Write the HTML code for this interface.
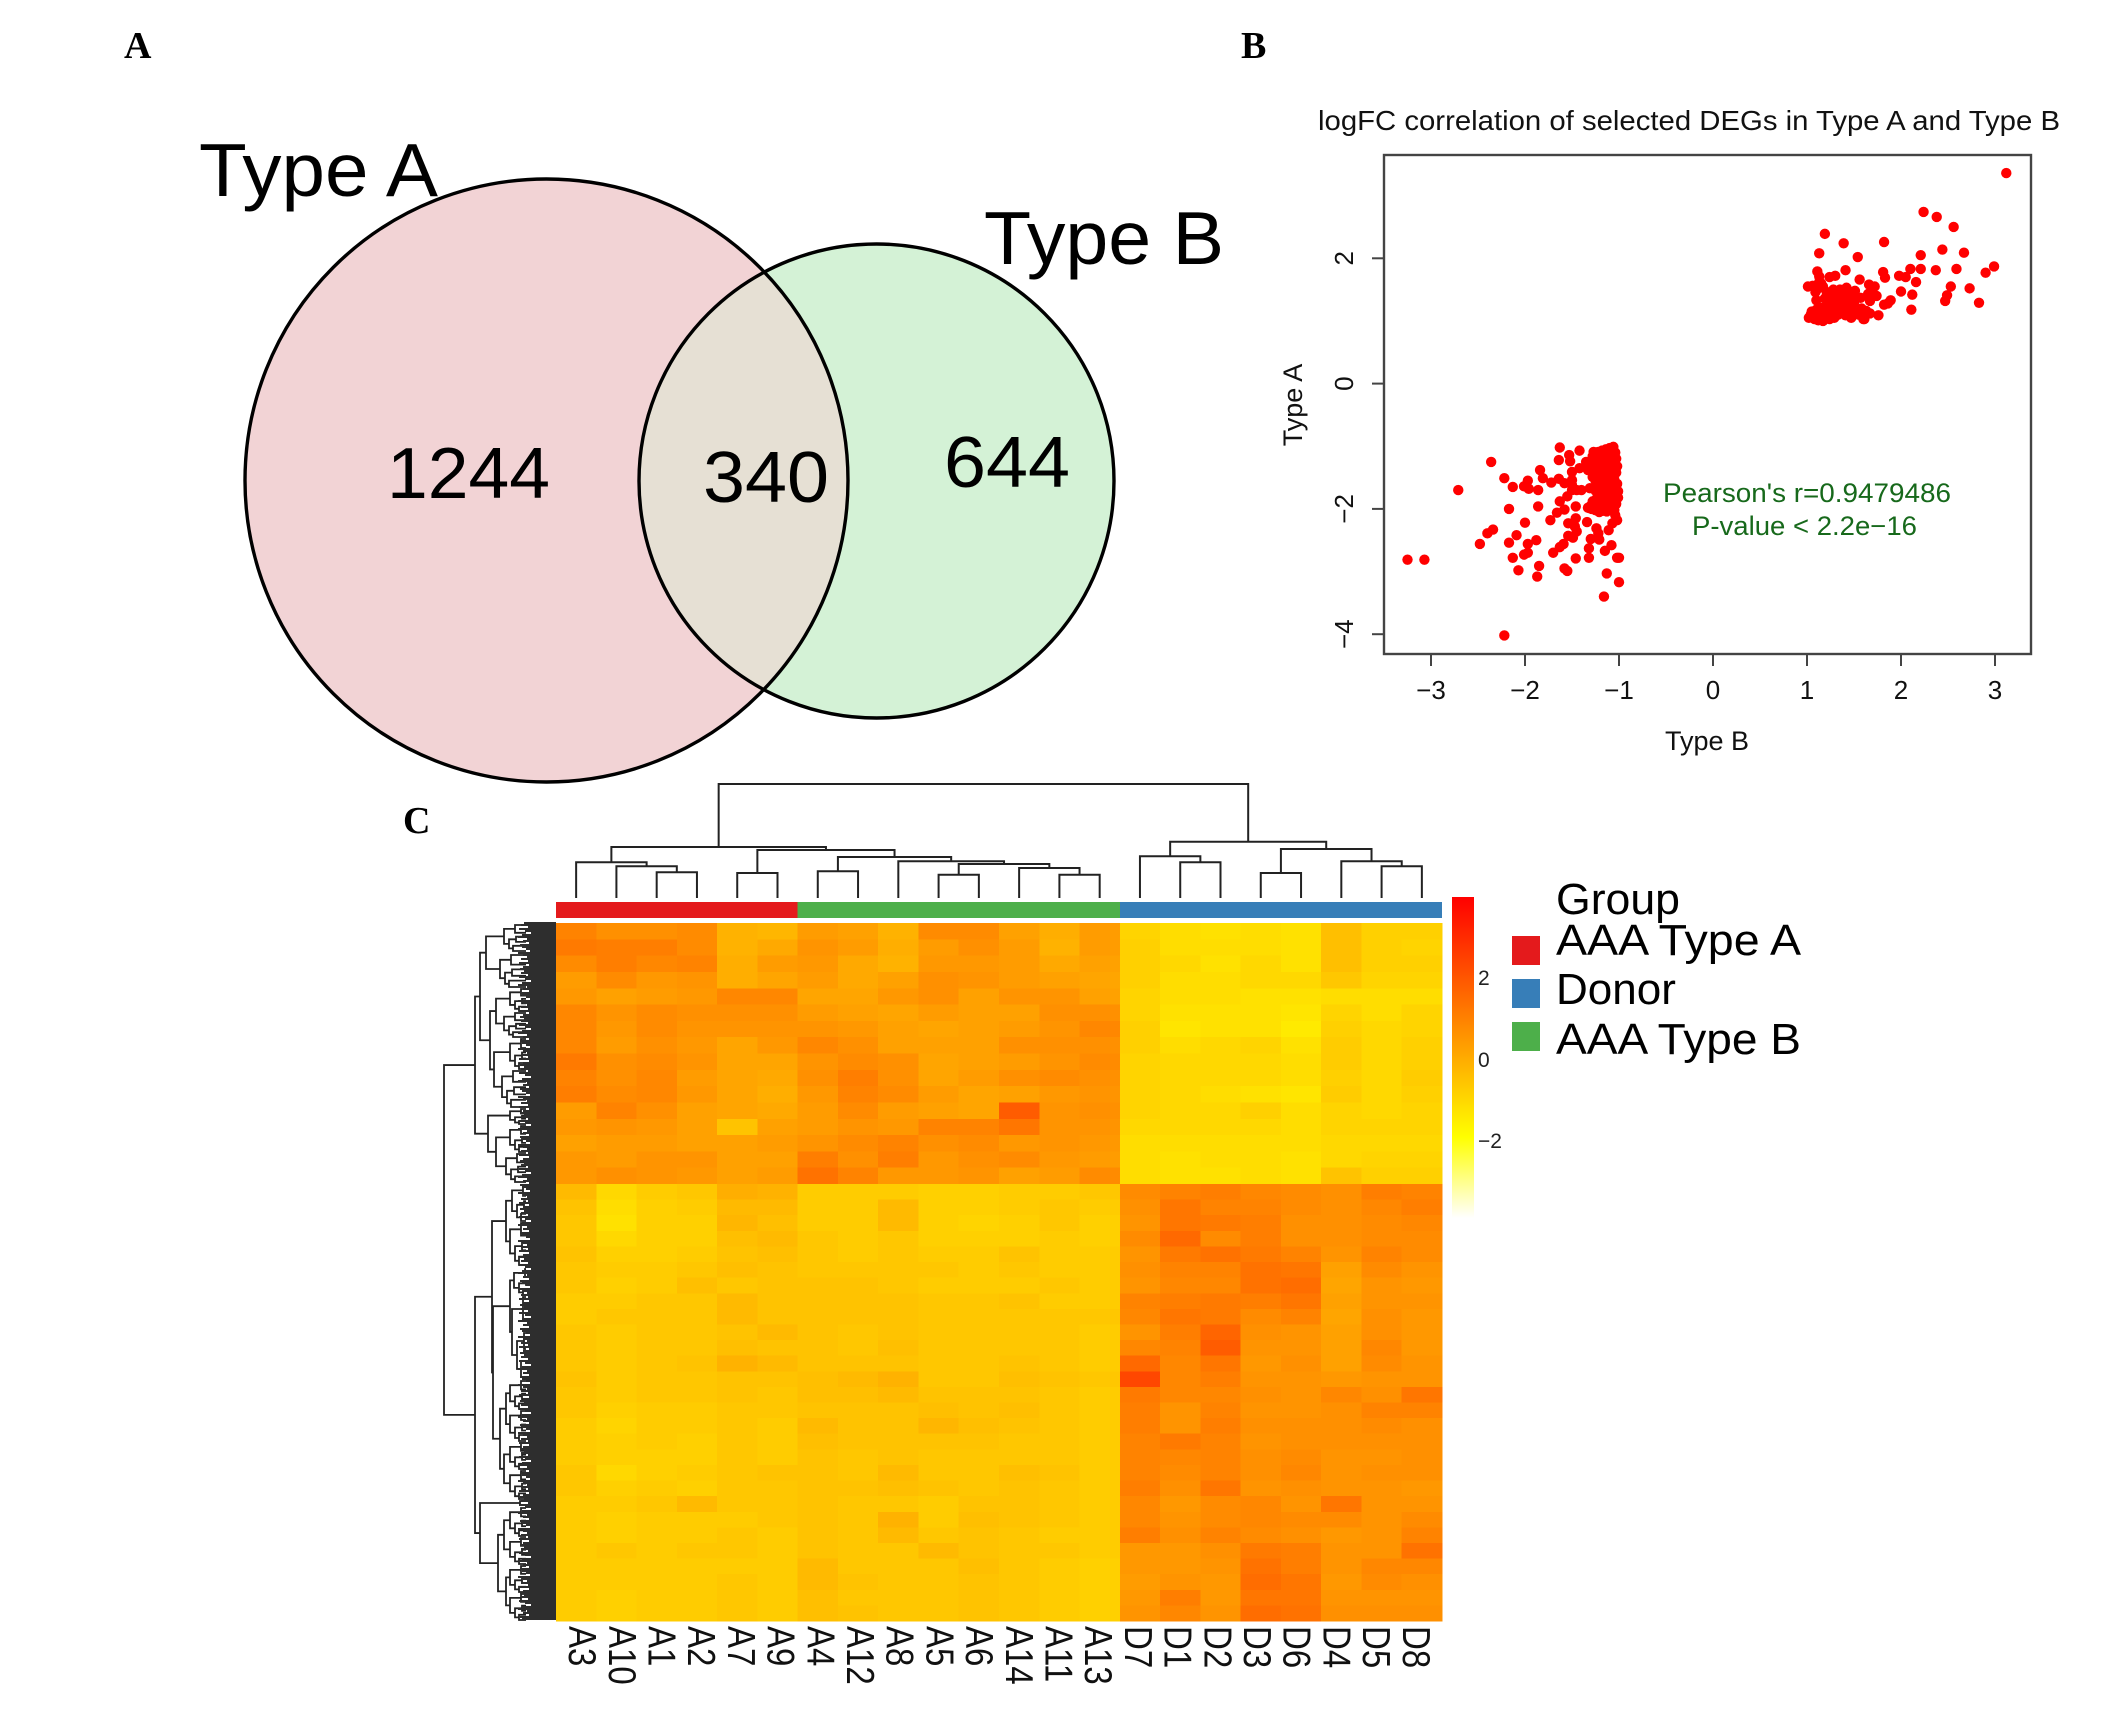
<!DOCTYPE html>
<html>
<head>
<meta charset="utf-8">
<title>Type A and Type B DEG figure</title>
<style>
html,body{margin:0;padding:0;background:#fff;}
svg{display:block;font-family:"Liberation Sans",sans-serif;}
.panel{font-family:"Liberation Serif",serif;font-weight:bold;font-size:38px;fill:#000;}
</style>
</head>
<body>
<svg id="fig" xmlns="http://www.w3.org/2000/svg" width="2125" height="1717" viewBox="0 0 2125 1717">
<defs>
<clipPath id="clip-a"><ellipse cx="546.5" cy="480.5" rx="301.5" ry="301.5"/></clipPath>
<linearGradient id="bar-grad" x1="0" y1="0" x2="0" y2="1">
<stop offset="0" stop-color="#ff0000"/>
<stop offset="0.748" stop-color="#ffff00"/>
<stop offset="1" stop-color="#ffffff"/>
</linearGradient>
</defs>

<text class="panel" x="124" y="58">A</text>
<text class="panel" x="1241" y="58">B</text>
<text class="panel" x="403" y="833">C</text>

<g>
<ellipse cx="546.5" cy="480.5" rx="301.5" ry="301.5" fill="#f2d3d5"/>
<ellipse cx="876.5" cy="481" rx="237.5" ry="237" fill="#d4f2d6"/>
<ellipse cx="876.5" cy="481" rx="237.5" ry="237" fill="#e6e0d4" clip-path="url(#clip-a)"/>
<ellipse cx="546.5" cy="480.5" rx="301.5" ry="301.5" fill="none" stroke="#000" stroke-width="3.4"/>
<ellipse cx="876.5" cy="481" rx="237.5" ry="237" fill="none" stroke="#000" stroke-width="3.4"/>
<text x="199" y="196" font-size="75" textLength="239" lengthAdjust="spacingAndGlyphs">Type A</text>
<text x="984" y="264" font-size="75" textLength="240" lengthAdjust="spacingAndGlyphs">Type B</text>
<text x="387" y="498" font-size="72" textLength="163" lengthAdjust="spacingAndGlyphs">1244</text>
<text x="703" y="502" font-size="72" textLength="126" lengthAdjust="spacingAndGlyphs">340</text>
<text x="944" y="487" font-size="72" textLength="126" lengthAdjust="spacingAndGlyphs">644</text>
</g>

<g id="scatter">
<text x="1318" y="130" font-size="28" textLength="742" lengthAdjust="spacingAndGlyphs" fill="#111">logFC correlation of selected DEGs in Type A and Type B</text>
<text x="1707" y="750" font-size="27" text-anchor="middle" fill="#111">Type B</text>
<text transform="translate(1302,405) rotate(-90)" font-size="27" text-anchor="middle" fill="#111">Type A</text>
<text x="1663" y="502" font-size="26.5" textLength="288" lengthAdjust="spacingAndGlyphs" fill="#17691b">Pearson's r=0.9479486</text>
<text x="1692" y="535" font-size="26.5" textLength="225" lengthAdjust="spacingAndGlyphs" fill="#17691b">P-value &lt; 2.2e−16</text>
</g>

<g id="heat"></g>

<g>
<rect x="1452" y="897" width="22" height="321" fill="url(#bar-grad)"/>
<text x="1478" y="985" font-size="21" fill="#222">2</text>
<text x="1478" y="1067" font-size="21" fill="#222">0</text>
<text x="1478" y="1148" font-size="21" fill="#222">−2</text>
</g>

<g>
<text x="1556" y="914" font-size="44" textLength="124" lengthAdjust="spacingAndGlyphs">Group</text>
<rect x="1512" y="936" width="28" height="29" fill="#e41a1c"/>
<text x="1556" y="955" font-size="44" textLength="245" lengthAdjust="spacingAndGlyphs">AAA Type A</text>
<rect x="1512" y="979" width="28" height="29" fill="#377eb8"/>
<text x="1556" y="1004" font-size="44">Donor</text>
<rect x="1512" y="1022" width="28" height="29" fill="#4daf4a"/>
<text x="1556" y="1054" font-size="44" textLength="245" lengthAdjust="spacingAndGlyphs">AAA Type B</text>
</g>
</svg>

<script>
/* ---------- scatter data ---------- */
const xTicks = [-3,-2,-1,0,1,2,3];
const yTicks = [-4,-2,0,2];
const upperTypeB = [3.12,2.24,2.38,2.56,1.19,1.39,1.82,1.13,1.54,2.21,2.44,2.67,2.99,2.90,1.11,1.41,1.81,2.10,2.21,2.37,2.59,1.98,2.05,1.83,1.56,2.16,1.30,1.24,1.13,1.01,2.53,2.73,1.66,1.72,1.42,1.51,2.00,2.12,2.49,2.47,2.83,2.11,1.89,1.86,1.82,1.76,1.67,1.61,
1.02,1.04,1.05,1.07,1.08,1.09,1.10,1.11,1.12,1.13,1.14,1.15,1.16,1.17,1.18,1.19,1.20,1.21,1.22,1.23,1.24,1.25,1.26,1.27,1.28,1.29,1.30,1.31,1.33,1.34,1.36,1.38,1.39,1.41,1.42,1.44,1.46,1.47,1.48,1.50,1.52,1.55,1.57,1.58,1.60,1.63,1.65,1.67,1.68,1.70,1.74,1.19,1.21,1.25,1.10,1.09,1.12,1.06,1.15,1.03,1.28,1.17,1.13,1.35];
const upperTypeA = [3.36,2.74,2.66,2.50,2.39,2.24,2.26,2.08,2.02,2.05,2.14,2.09,1.87,1.77,1.79,1.81,1.78,1.83,1.83,1.81,1.83,1.72,1.70,1.69,1.66,1.62,1.72,1.70,1.71,1.55,1.55,1.52,1.58,1.55,1.53,1.48,1.47,1.42,1.41,1.32,1.29,1.18,1.33,1.28,1.26,1.09,1.12,1.03,
1.05,1.10,1.15,1.08,1.03,1.13,1.18,1.06,1.01,1.10,1.16,1.05,1.21,1.00,1.09,1.14,1.04,1.19,1.08,1.28,1.03,1.13,1.32,1.09,1.20,1.05,1.15,1.36,1.10,1.24,1.31,1.18,1.41,1.09,1.27,1.35,1.20,1.05,1.42,1.29,1.14,1.10,1.37,1.20,1.03,1.16,1.43,1.32,1.47,1.52,1.40,1.36,1.46,1.42,1.33,1.46,1.52,1.56,1.60,1.06,1.50,1.55,1.62,1.50];
const lowerTypeB = [-3.25,-3.07,-2.71,-2.36,-2.22,-2.13,-1.97,-2.01,-1.96,-1.86,-2.17,-1.86,-2.00,-2.34,-2.40,-2.48,-2.17,-2.09,-1.88,-1.97,-1.97,-2.01,-2.13,-2.07,-1.85,-1.87,-2.22,-1.73,-1.63,-1.64,-1.42,-1.53,-1.52,-1.84,-1.81,-1.72,-1.64,
-1.55,-1.63,-1.66,-1.58,-1.46,-1.46,-1.54,-1.34,-1.45,-1.47,-1.54,-1.49,-1.59,-1.63,-1.70,-1.58,-1.55,-1.46,-1.32,-1.32,-1.30,-1.24,-1.22,-1.21,-1.08,-1.15,-1.11,-1.07,-1.02,-1.04,-1.13,-1.00,-1.16,-1.02,-1.00,
-1.50,-1.50,-1.58,-1.45,-1.40,-1.31,-1.42,-1.33,-1.35,-1.27,-1.50,-1.50,
-1.06,-1.10,-1.14,-1.18,-1.22,-1.04,-1.08,-1.12,-1.16,-1.20,-1.24,-1.28,-1.03,-1.07,-1.11,-1.15,-1.19,-1.23,-1.27,-1.31,-1.02,-1.06,-1.10,-1.14,-1.18,-1.22,-1.26,-1.30,-1.03,-1.07,-1.12,-1.16,-1.20,-1.24,-1.28,-1.05,-1.09,-1.13,-1.17,-1.21,-1.25,-1.02,-1.06,-1.10,-1.14,-1.18,-1.22,-1.26,-1.01,-1.05,-1.09,-1.13,-1.17,-1.21,-1.25,-1.01,-1.04,-1.08,-1.12,-1.16,-1.20,-1.24,-1.28,-1.03,-1.07,-1.11,-1.15,-1.19,-1.23,-1.27,-1.31,-1.05,-1.09,-1.13,-1.17,-1.21,-1.25,-1.29,-1.33,-1.07,-1.12,-1.18,-1.24,-1.30];
const lowerTypeA = [-2.81,-2.81,-1.70,-1.25,-1.51,-1.65,-1.55,-1.64,-1.68,-1.70,-2.00,-1.96,-2.22,-2.33,-2.39,-2.56,-2.54,-2.42,-2.50,-2.56,-2.70,-2.73,-2.78,-2.98,-2.91,-3.08,-4.02,-2.18,-1.02,-1.22,-1.07,-1.14,-1.24,-1.38,-1.51,-1.58,-1.52,
-1.80,-1.88,-2.06,-2.01,-1.96,-2.15,-2.23,-2.21,-2.36,-2.28,-2.43,-2.46,-2.56,-2.61,-2.70,-2.95,-2.99,-2.79,-2.63,-2.78,-2.48,-2.31,-2.39,-2.49,-2.58,-2.67,-2.34,-2.23,-2.18,-2.10,-3.03,-3.17,-3.40,-2.78,-2.78,
-1.41,-1.54,-1.59,-1.70,-1.70,-1.67,-1.35,-1.38,-1.25,-1.09,-1.62,-1.70,
-1.01,-1.03,-1.05,-1.07,-1.09,-1.10,-1.12,-1.14,-1.11,-1.13,-1.12,-1.16,-1.20,-1.22,-1.23,-1.21,-1.24,-1.22,-1.25,-1.27,-1.32,-1.33,-1.31,-1.34,-1.36,-1.35,-1.37,-1.34,-1.42,-1.44,-1.43,-1.46,-1.44,-1.47,-1.49,-1.53,-1.55,-1.56,-1.54,-1.57,-1.55,-1.60,-1.63,-1.64,-1.66,-1.62,-1.65,-1.68,-1.72,-1.74,-1.73,-1.76,-1.75,-1.78,-1.71,-1.82,-1.84,-1.83,-1.85,-1.82,-1.86,-1.84,-1.88,-1.92,-1.94,-1.93,-1.96,-1.95,-1.97,-1.95,-1.99,-2.02,-2.01,-2.04,-2.03,-2.05,-2.02,-2.00,-1.98,-1.70,-1.60,-1.90,-2.00,-1.95];

/* ---------- heatmap data ---------- */
const sampleNames = ["A3","A10","A1","A2","A7","A9","A4","A12","A8","A5","A6","A14","A11","A13","D7","D1","D2","D3","D6","D4","D5","D8"];
const groupOrder = ["AAA Type A","AAA Type B","Donor"];
const groupSizes = [6,8,8];
const groupColors = ["#e41a1c","#4daf4a","#377eb8"];
const heatTop = [
[.9,.6,.6,.7,-.2,-.3,.3,.2,-.2,.7,.7,.2,-.1,.3,-1.0,-1.2,-1.3,-1.2,-1.3,-.5,-.9,-.9],
[1.1,1.0,1.0,.7,-.2,.0,.5,.3,-.1,.3,.6,.3,-.2,.3,-.9,-1.2,-1.2,-1.2,-1.3,-.5,-.9,-1.0],
[.7,1.0,.8,.9,-.1,.3,.4,0,-.2,.4,.4,.3,.0,.2,-.9,-1.1,-1.3,-1.1,-1.3,-.5,-.9,-.9],
[.3,.7,.4,.5,-.1,.1,.3,0,.2,.6,.5,.3,.2,.1,-.9,-1.2,-1.2,-1.1,-1.1,-.7,-1.0,-1.0],
[.4,.2,.3,.4,.8,.8,.1,.1,.4,.6,.2,.5,.5,.2,-1.0,-1.2,-1.2,-1.3,-1.3,-1.2,-1.2,-1.2],
[.8,.5,.7,.6,.6,.6,.3,.2,.1,.3,.2,.2,.6,.6,-1.0,-1.3,-1.3,-1.3,-1.4,-1.0,-1.2,-1.0],
[.8,.4,.7,.5,.5,.5,.5,.4,.2,.1,.2,.3,.5,.8,-.9,-1.4,-1.3,-1.3,-1.5,-.9,-1.1,-1.0],
[.8,.3,.6,.4,.1,.4,.8,.6,.2,.2,.2,.6,.6,.6,-.9,-1.2,-1.1,-1.0,-1.3,-.8,-1.1,-.9],
[1.1,.6,.7,.5,.1,.1,.5,.7,.6,.1,.2,.3,.5,.7,-1.0,-1.1,-1.1,-1.1,-1.2,-.8,-1.1,-.9],
[.9,.6,.8,.3,.1,0,.6,1.0,.6,.1,.3,.6,.7,.6,-1.0,-1.1,-1.1,-1.1,-1.2,-.9,-1.1,-.8],
[1.0,.7,.8,.4,.1,-.1,.4,.9,.7,.3,.1,.2,.4,.5,-1.0,-1.1,-1.2,-1.3,-1.4,-.8,-1.1,-.9],
[.3,.9,.6,.2,.1,.0,.3,.7,.3,.2,.1,1.8,.5,.6,-1.0,-1.1,-1.1,-.9,-1.2,-1.0,-1.1,-1.0],
[.4,.5,.4,.2,-.6,.2,.3,.5,.4,.9,.9,1.2,.5,.5,-1.1,-1.1,-1.1,-1.1,-1.2,-1.0,-1.0,-1.0],
[.2,.3,.3,.2,.2,.3,.5,.7,.9,.6,.7,.4,.5,.4,-1.2,-1.2,-1.2,-1.2,-1.2,-1.1,-1.1,-1.1],
[.4,.3,.5,.5,.2,.2,1.0,.6,1.0,.4,.6,.7,.4,.3,-1.2,-1.3,-1.2,-1.2,-1.3,-1.1,-1.0,-1.0],
[.4,.6,.5,.4,.2,.3,1.3,.9,.4,.4,.5,.2,.3,.7,-1.2,-1.3,-1.3,-1.2,-1.3,-.6,-.9,-.9]
];
const heatBottom = [
[-.4,-1.1,-.8,-.7,-.1,-.2,-.8,-.8,-.8,-.9,-.9,-.8,-.8,-.7,.7,.9,1.0,.8,.7,.6,1.0,.9],
[-.6,-1.2,-.9,-.8,-.4,-.4,-.8,-.8,-.4,-.9,-.9,-.8,-.7,-.8,.6,1.2,.9,.9,.7,.6,.8,1.0],
[-.7,-1.3,-.9,-.9,-.3,-.5,-.8,-.8,-.4,-.9,-1,-.9,-.7,-.9,.5,1.2,1.1,1.0,.6,.6,.7,.8],
[-.7,-1.1,-.9,-.9,-.5,-.4,-.7,-.8,-.7,-.9,-.9,-.9,-.8,-.9,.7,1.5,.7,1.0,.6,.6,.7,.7],
[-.6,-.9,-.9,-.8,-.6,-.5,-.7,-.8,-.7,-.8,-.8,-.6,-.8,-.8,.5,1.1,1.3,1.1,.9,.5,.9,.7],
[-.7,-.8,-.8,-.7,-.5,-.6,-.7,-.7,-.7,-.7,-.8,-.7,-.8,-.8,.6,.9,.9,1.3,1.2,.2,.7,.5],
[-.7,-.9,-.8,-.5,-.7,-.6,-.6,-.6,-.7,-.8,-.8,-.8,-.7,-.8,.5,.8,.8,1.3,1.4,.1,.5,.4],
[-.8,-.8,-.7,-.7,-.4,-.6,-.6,-.6,-.6,-.7,-.7,-.6,-.8,-.8,.9,1.0,1.1,1.0,1.2,.2,.5,.5],
[-.8,-.7,-.7,-.7,-.4,-.6,-.6,-.6,-.6,-.7,-.7,-.7,-.7,-.7,.8,1.2,1.1,.7,.9,.1,.6,.4],
[-.7,-.8,-.7,-.7,-.6,-.4,-.6,-.7,-.6,-.7,-.7,-.7,-.7,-.8,.5,1.0,1.6,.6,.5,.2,.6,.4],
[-.7,-.8,-.7,-.7,-.5,-.6,-.6,-.7,-.5,-.7,-.7,-.7,-.7,-.8,.8,.9,1.8,.5,.5,.2,.8,.4],
[-.7,-.8,-.7,-.6,-.2,-.4,-.6,-.6,-.6,-.7,-.7,-.6,-.7,-.8,1.5,.8,1.2,.4,.6,.2,.7,.5],
[-.6,-.8,-.7,-.7,-.6,-.6,-.5,-.4,-.2,-.7,-.7,-.5,-.6,-.7,2.3,.8,1.0,.5,.5,.4,.5,.5],
[-.7,-.8,-.7,-.7,-.6,-.7,-.5,-.5,-.4,-.6,-.6,-.6,-.7,-.8,1.1,.8,.8,.6,.5,.8,.6,1.2],
[-.7,-.9,-.8,-.8,-.7,-.7,-.6,-.6,-.6,-.5,-.6,-.5,-.7,-.8,1.0,.5,.9,.5,.5,.6,.9,.9],
[-.8,-1.0,-.8,-.8,-.7,-.8,-.4,-.6,-.6,-.3,-.5,-.6,-.7,-.8,1.0,.5,1.0,.6,.6,.6,.7,.6],
[-.8,-.9,-.8,-.9,-.7,-.8,-.5,-.6,-.6,-.6,-.6,-.7,-.7,-.8,.9,1.1,.9,.5,.6,.6,.6,.6],
[-.8,-.9,-.9,-.9,-.7,-.8,-.6,-.7,-.6,-.7,-.7,-.7,-.7,-.8,.9,.8,.9,.6,.7,.5,.5,.6],
[-.7,-1.1,-.9,-.8,-.7,-.6,-.6,-.7,-.4,-.7,-.7,-.5,-.6,-.8,.9,.7,.9,.6,.8,.5,.6,.6],
[-.7,-.9,-.8,-.9,-.7,-.7,-.6,-.6,-.5,-.6,-.7,-.6,-.7,-.8,1.0,.6,1.2,.5,.6,.5,.5,.4],
[-.8,-.8,-.7,-.4,-.7,-.7,-.6,-.7,-.7,-.8,-.6,-.6,-.7,-.8,.8,.4,.7,.8,.5,1.2,.5,.5],
[-.8,-.9,-.8,-.8,-.8,-.7,-.6,-.7,-.2,-.8,-.5,-.6,-.7,-.8,.8,.5,.7,.8,.7,.7,.5,.7],
[-.8,-.9,-.8,-.8,-.7,-.8,-.6,-.7,-.4,-.7,-.6,-.7,-.8,-.8,1.0,.6,.9,.7,.6,.4,.5,.9],
[-.8,-.7,-.8,-.7,-.7,-.8,-.6,-.7,-.7,-.4,-.6,-.7,-.7,-.8,.4,.4,.6,1.1,1.0,.5,.5,1.3],
[-.8,-.8,-.8,-.8,-.8,-.8,-.4,-.7,-.7,-.7,-.5,-.7,-.8,-.9,.4,.4,.5,1.3,1.0,.5,.8,.8],
[-.8,-.8,-.8,-.8,-.7,-.8,-.4,-.6,-.7,-.7,-.6,-.7,-.8,-.9,.3,.5,.4,1.4,1.2,.4,.7,.6],
[-.8,-.9,-.8,-.8,-.7,-.8,-.5,-.7,-.7,-.7,-.6,-.7,-.8,-.9,.4,1.0,.4,1.2,1.2,.5,.5,.5],
[-.8,-.9,-.8,-.8,-.7,-.8,-.5,-.6,-.7,-.7,-.6,-.7,-.8,-.9,.5,.8,.5,1.4,1.3,.6,.6,.6]
];
/* column dendrogram: [height, left, right]; a plain number is a column index */
const colTree = [114,
  [51,
    [35.7,0,[31.7,1,[25.7,2,3]]],
    [48,[25,4,5],
      [41,[26.7,6,7],
        [36.7,8,[34,[23.3,9,10],[30,11,[23.3,12,13]]]]]]],
  [56.3,
    [41.7,14,[35.7,15,16]],
    [49,[25,17,18],[36.7,19,[31.7,20,21]]]]];
/* row dendrogram: [height, upper, lower]; a plain number is a row offset */
function L(y,s,h){h=h||46;return [h,[h-11,y,y+.3*s],[h-5,[h-12,y+.45*s,y+.65*s],[h-9,y+.8*s,y+s]]];}
const rowTree = [112,
 [81,
  [76,
    [70,L(2,26,52),L(32,32,56)],
    [66,[60,L(66,22),L(90,24,52)],[62,L(116,30),L(148,36,54)]]
  ],
  [68,L(186,15,46),[60,L(203,26),L(231,28,50)]]
 ],
 [81,
  [64,
    [50,L(262,36,44),L(300,42,46)],
    [63,
      [46,L(346,26,42),L(374,80,44)],
      [56,[50,L(458,28),L(488,30)],[52,L(520,26),L(548,28)]]
    ]
  ],
  [76,
    [36,578,582],
    [58,[52,L(585,28),L(615,26)],[50,L(643,26),L(671,26)]]
  ]
 ]];
const rowTipLengths = [32,35,28,37,31,25,34,38,29,33,27,36,34,30,26,38,33,29,35,28,37,27,33,36];

/* ---------- helpers ---------- */
const NS = "http://www.w3.org/2000/svg";
function mk(tag, parent, attrs){
  const e = document.createElementNS(NS, tag);
  for (const k in attrs) e.setAttribute(k, attrs[k]);
  parent.appendChild(e);
  return e;
}
/* ---------- scatter axes ---------- */
const sx = v => 1713 + 94 * v;
const sy = v => 383.6 - 62.65 * v;
const scatter = document.getElementById("scatter");
const box = mk("rect", scatter, {x:1384,y:155,width:647,height:499,fill:"none",stroke:"#444","stroke-width":2.4});


xTicks.forEach(t => {
  const tick = mk("line", scatter, {x1:sx(t),x2:sx(t),y1:654,y2:666,stroke:"#444","stroke-width":2});
  
  
  const lab = mk("text", scatter, {x:sx(t),y:699,"font-size":26,"text-anchor":"middle",fill:"#111"});
  lab.textContent = String(t).replace("-", "−");
  
  
});
yTicks.forEach(t => {
  const tick = mk("line", scatter, {x1:1372,x2:1384,y1:sy(t),y2:sy(t),stroke:"#444","stroke-width":2});
  
  
  const lab = mk("text", scatter, {transform:"translate(1353,"+sy(t)+") rotate(-90)","font-size":26,"text-anchor":"middle",fill:"#111"});
  lab.textContent = String(t).replace("-", "−");
  
  
});
function drawPoints(xs, ys){
  xs.forEach((x, i) => {
    const pt = mk("circle", scatter, {cx:sx(x),cy:sy(ys[i]),r:5.2,fill:"#ff0000"});
    
    
  });
}
drawPoints(upperTypeB, upperTypeA);
drawPoints(lowerTypeB, lowerTypeA);

/* ---------- heatmap axes ---------- */
const heat = document.getElementById("heat");
const HL = 556, HR = 1442, HT = 923, HS = 1184, HB = 1621;
const colW = (HR - HL) / sampleNames.length;
const colX = i => HL + colW * i;
const colC = i => colX(i) + colW / 2;
function heatColor(v){
  if (v >= -2) {
    const g = Math.max(0, Math.min(255, 255 * (3.95 - v) / 5.95));
    return "rgb(255," + Math.round(g) + ",0)";
  }
  const b = Math.max(0, Math.min(255, 255 * (-2 - v) / 1.9));
  return "rgb(255,255," + Math.round(b) + ")";
}
function drawBlock(rows, top, bottom){
  const rh = (bottom - top) / rows.length;
  rows.forEach((row, r) => {
    row.forEach((v, c) => {
      const cell = mk("rect", heat, {x:colX(c),y:top + r * rh,width:colW + .5,height:rh + .5,fill:heatColor(v),"shape-rendering":"crispEdges"});
      
      
    });
  });
}
drawBlock(heatTop, HT, HS);
drawBlock(heatBottom, HS, HB);

/* annotation bar */
let start = 0;
groupSizes.forEach((n, g) => {
  const seg = mk("rect", heat, {x:colX(start),y:902,width:colW * n,height:16,fill:groupColors[g],"shape-rendering":"crispEdges"});
  
  
  start += n;
});

/* column labels */
sampleNames.forEach((name, i) => {
  const lab = mk("text", heat, {transform:"translate(" + (colC(0) - 7 + i * 39.7) + ",1626) rotate(90) scale(1,1.18)","font-size":33,fill:"#111"});
  lab.textContent = name;
  
  
});

/* dendrograms */
function drawColTree(node){
  const base = 898;
  if (typeof node === "number") return {x:colC(node), y:base};
  const a = drawColTree(node[1]), b = drawColTree(node[2]), y = base - node[0];
  const p = mk("path", heat, {d:"M"+a.x+" "+a.y+"V"+y+"H"+b.x+"V"+b.y,fill:"none",stroke:"#222","stroke-width":2});
  
  
  return {x:(a.x + b.x) / 2, y:y};
}
drawColTree(colTree);
const ROW_BASE = 556;
function drawRowTree(node){
  if (typeof node === "number") return {x:ROW_BASE - 30, y:HT + node};
  const a = drawRowTree(node[1]), b = drawRowTree(node[2]), x = ROW_BASE - node[0];
  const p = mk("path", heat, {d:"M"+a.x+" "+a.y+"H"+x+"V"+b.y+"H"+b.x,fill:"none",stroke:"#222","stroke-width":1.8});
  
  
  return {x:x, y:(a.y + b.y) / 2};
}
drawRowTree(rowTree);
for (let y = HT, i = 0; y < HB; y += 2, i++) {
  const len = rowTipLengths[i % rowTipLengths.length];
  const tip = mk("line", heat, {x1:ROW_BASE - len,x2:ROW_BASE,y1:y,y2:y,stroke:"#2e2e2e","stroke-width":2});
  
  
}
</script>
</body>
</html>
